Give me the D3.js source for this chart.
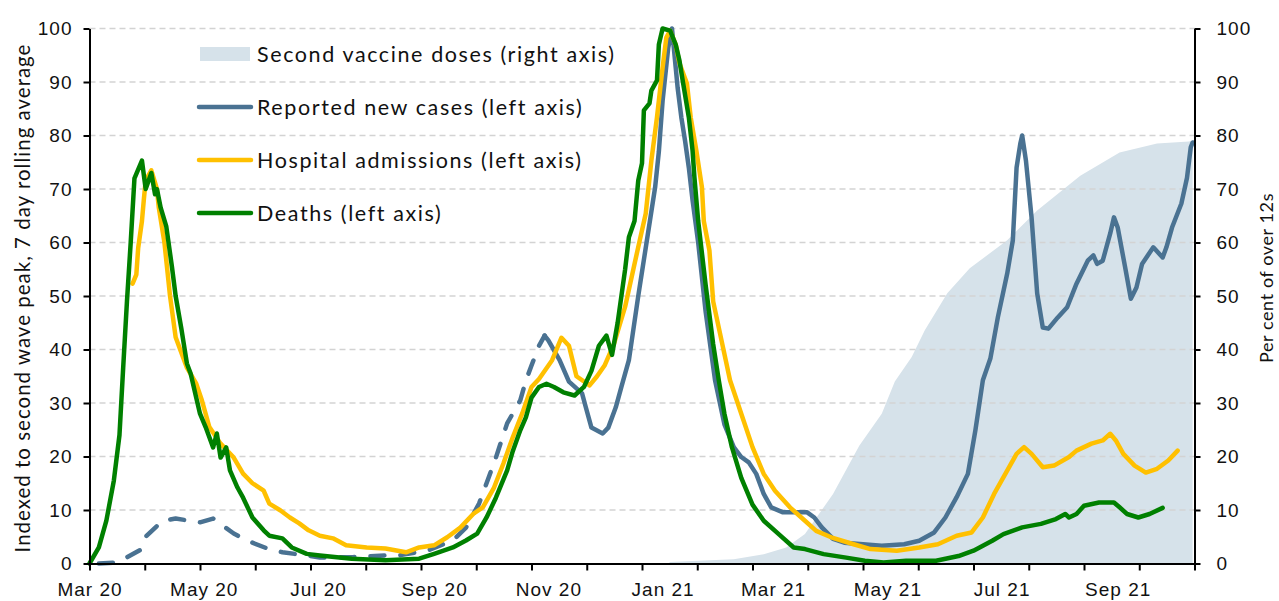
<!DOCTYPE html>
<html>
<head>
<meta charset="utf-8">
<script src="https://cdn.jsdelivr.net/npm/d3@7"></script>
<style>
  body { margin: 0; background: #fff; }
  svg { display: block; font-family: Lato, "Noto Sans", sans-serif; }
  .tick text { font-size: 19px; letter-spacing: 1px; fill: #111; }
</style>
</head>
<body>
<svg id="chart" width="1279" height="601"></svg>
<script>
// Data: [date, value]
var vaccineDoses = [
  ["2021-01-04",0],["2021-01-05",0.3],["2021-01-20",0.5],["2021-02-08",0.8],["2021-02-24",1.75],
  ["2021-03-08",3],["2021-03-18",5.5],["2021-04-02",13],["2021-04-16",22],["2021-04-28",28],
  ["2021-05-05",34],["2021-05-14",38.6],["2021-05-21",43.6],["2021-06-02",50.5],["2021-06-14",55.2],
  ["2021-07-04",60.4],["2021-07-20",66],["2021-08-12",72.5],["2021-09-02",76.8],["2021-09-22",78.5],
  ["2021-10-09",78.9],["2021-10-11",79]
];

// cases before the end of October 2020 are drawn dashed
var casesEarly = [
  ["2020-03-06",0],["2020-03-16",0.2],["2020-03-28",2.5],["2020-03-31",5],["2020-04-09",8],
  ["2020-04-16",8.4],["2020-04-29",7.7],["2020-05-06",8.4],["2020-05-17",5.6],["2020-05-24",4.3],
  ["2020-06-04",2.8],["2020-06-12",2.1],["2020-06-25",1.5],["2020-07-02",1.1],["2020-07-20",1.2],
  ["2020-08-06",1.5],["2020-08-13",1.5],["2020-08-29",2.5],["2020-09-11",4.3],["2020-09-18",6.7],
  ["2020-09-25",11.2],["2020-09-29",15],["2020-10-04",19.8],["2020-10-10",26.2],["2020-10-17",30.5],
  ["2020-10-20",34.2],["2020-10-23",37],["2020-10-27",40.7],["2020-10-30",42.6]
];

var casesLate = [
  ["2020-10-30",42.6],["2020-11-01",41.7],["2020-11-07",38],["2020-11-12",34],["2020-11-19",31.8],
  ["2020-11-21",29.2],["2020-11-24",25.4],["2020-11-30",24.3],["2020-12-03",25.4],["2020-12-07",29.2],
  ["2020-12-10",33],["2020-12-14",38],["2020-12-19",50],["2020-12-28",70.3],["2020-12-30",77],
  ["2021-01-01",86.5],["2021-01-04",96.4],["2021-01-06",100],["2021-01-08",92.7],["2021-01-09",89],
  ["2021-01-11",83.4],["2021-01-13",79],["2021-01-15",74],["2021-01-17",67.9],["2021-01-20",60],
  ["2021-01-24",47],["2021-01-29",34.25],["2021-02-03",26],["2021-02-08",21.75],["2021-02-12",19.9],
  ["2021-02-16",18.9],["2021-02-20",16.75],["2021-02-24",13],["2021-02-28",10.5],["2021-03-06",9.6],
  ["2021-03-16",9.6],["2021-03-19",9.6],["2021-03-23",8.6],["2021-03-27",6.75],["2021-04-02",4.6],
  ["2021-04-08",3.9],["2021-04-18",3.6],["2021-04-28",3.3],["2021-05-10",3.6],["2021-05-18",4.25],
  ["2021-05-26",5.8],["2021-06-01",8.6],["2021-06-07",12.4],["2021-06-13",16.75],["2021-06-17",24.9],
  ["2021-06-21",34.25],["2021-06-25",38.3],["2021-06-29",46],["2021-07-04",54.2],["2021-07-07",60.4],
  ["2021-07-09",74],["2021-07-11",78.5],["2021-07-12",80],["2021-07-14",75.3],["2021-07-17",64.7],
  ["2021-07-20",50.5],["2021-07-23",44.1],["2021-07-26",43.9],["2021-07-31",46],["2021-08-05",47.9],
  ["2021-08-10",52.3],["2021-08-16",56.6],["2021-08-19",57.6],["2021-08-21",56],["2021-08-24",56.6],
  ["2021-08-28",61.7],["2021-08-30",64.7],["2021-09-01",62.8],["2021-09-05",55.3],["2021-09-08",49.5],
  ["2021-09-11",51.6],["2021-09-14",56],["2021-09-20",59.1],["2021-09-25",57.2],["2021-09-27",59.1],
  ["2021-09-30",62.8],["2021-10-05",67.3],["2021-10-08",72.1],["2021-10-10",77.8],["2021-10-11",78.7]
];

var admissions = [
  ["2020-03-24",52.3],["2020-03-26",54],["2020-03-27",59],["2020-03-29",64],["2020-03-30",68],
  ["2020-03-31",71.6],["2020-04-03",73.5],["2020-04-06",70],["2020-04-07",66.5],["2020-04-10",60],
  ["2020-04-13",50],["2020-04-16",42.3],["2020-04-22",36.6],["2020-04-27",33.6],["2020-04-30",30.5],
  ["2020-05-04",25.5],["2020-05-10",22.4],["2020-05-17",19.8],["2020-05-22",16.8],["2020-05-27",15],
  ["2020-06-02",13.6],["2020-06-05",11.2],["2020-06-11",9.9],["2020-06-16",8.6],["2020-06-21",7.5],
  ["2020-06-26",6.2],["2020-07-02",5.2],["2020-07-09",4.7],["2020-07-16",3.4],["2020-07-27",3],
  ["2020-08-06",2.8],["2020-08-17",2.1],["2020-08-24",3],["2020-09-01",3.4],["2020-09-08",4.9],
  ["2020-09-15",6.7],["2020-09-22",9.3],["2020-09-27",10.5],["2020-10-03",14.2],["2020-10-08",18.7],
  ["2020-10-13",23.6],["2020-10-18",28],["2020-10-23",33],["2020-10-27",34.5],["2020-11-03",38],
  ["2020-11-08",42.2],["2020-11-12",40.7],["2020-11-16",35],["2020-11-23",33.3],["2020-11-27",35],
  ["2020-12-01",37],["2020-12-06",41],["2020-12-12",48],["2020-12-17",56],["2020-12-23",65.4],
  ["2020-12-26",75.3],["2020-12-29",83.4],["2021-01-01",92.7],["2021-01-03",98.3],["2021-01-05",99.6],
  ["2021-01-08",97],["2021-01-10",93.5],["2021-01-14",89.7],["2021-01-16",83.4],["2021-01-19",77.2],
  ["2021-01-22",70.3],["2021-01-23",64],["2021-01-26",58.5],["2021-01-28",49],["2021-02-06",34.25],
  ["2021-02-12",28],["2021-02-18",21.75],["2021-02-24",16.75],["2021-03-02",13.6],["2021-03-10",10.5],
  ["2021-03-18",8],["2021-03-24",6.1],["2021-04-01",4.9],["2021-04-13",3.6],["2021-04-22",2.7],
  ["2021-05-06",2.4],["2021-05-18",3],["2021-05-28",3.6],["2021-06-07",5.2],["2021-06-15",5.8],
  ["2021-06-21",8.6],["2021-06-27",13],["2021-07-03",16.75],["2021-07-09",20.5],["2021-07-13",21.75],
  ["2021-07-17",20.5],["2021-07-23",18],["2021-07-29",18.3],["2021-08-06",19.9],["2021-08-10",21.1],
  ["2021-08-18",22.4],["2021-08-24",23],["2021-08-28",24.25],["2021-08-31",23],["2021-09-04",20.5],
  ["2021-09-10",18.3],["2021-09-16",17],["2021-09-22",17.7],["2021-09-28",19.25],["2021-10-03",21.1]
];

var deaths = [
  ["2020-03-01",0],["2020-03-06",3],["2020-03-10",8],["2020-03-14",15.5],["2020-03-17",24],
  ["2020-03-19",36.7],["2020-03-21",49],["2020-03-23",60],["2020-03-25",72],["2020-03-29",75.3],
  ["2020-03-31",70],["2020-04-03",73],["2020-04-05",69],["2020-04-06",70],["2020-04-08",66.5],
  ["2020-04-11",63],["2020-04-14",55.5],["2020-04-16",50],["2020-04-19",44],["2020-04-22",37.4],
  ["2020-04-24",35.5],["2020-04-27",31],["2020-04-29",28],["2020-05-02",25.5],["2020-05-06",21.7],
  ["2020-05-08",24.3],["2020-05-10",19.8],["2020-05-13",21.7],["2020-05-15",17.4],["2020-05-19",14.2],
  ["2020-05-22",12.3],["2020-05-27",8.6],["2020-06-02",6.2],["2020-06-05",5.2],["2020-06-12",4.7],
  ["2020-06-17",3],["2020-06-25",1.8],["2020-07-02",1.5],["2020-07-19",0.9],["2020-08-06",0.6],
  ["2020-08-24",0.9],["2020-09-01",1.8],["2020-09-11",3],["2020-09-18",4.3],["2020-09-24",5.6],
  ["2020-09-29",8.6],["2020-10-04",12.3],["2020-10-10",17.4],["2020-10-13",21],["2020-10-17",24.9],
  ["2020-10-20",27.3],["2020-10-23",31],["2020-10-27",33],["2020-10-31",33.6],["2020-11-04",33],
  ["2020-11-09",32],["2020-11-15",31.4],["2020-11-20",33],["2020-11-24",36],["2020-11-28",40.7],
  ["2020-12-02",42.6],["2020-12-05",39],["2020-12-08",45],["2020-12-12",55],["2020-12-14",61],
  ["2020-12-17",64],["2020-12-19",71.6],["2020-12-21",74.8],["2020-12-22",84.7],["2020-12-25",86],
  ["2020-12-26",88.4],["2020-12-29",90.3],["2020-12-30",97],["2021-01-01",100],["2021-01-05",99.6],
  ["2021-01-08",97],["2021-01-10",94],["2021-01-12",89.7],["2021-01-15",83.4],["2021-01-17",77.2],
  ["2021-01-18",72.1],["2021-01-20",64],["2021-01-24",52],["2021-01-28",41],["2021-01-31",34.25],
  ["2021-02-03",28],["2021-02-07",21.75],["2021-02-12",16],["2021-02-18",11],["2021-02-24",8],
  ["2021-03-04",5.5],["2021-03-12",3],["2021-03-18",2.7],["2021-03-28",1.75],["2021-04-09",1.1],
  ["2021-04-19",0.5],["2021-04-29",0.2],["2021-05-11",0.5],["2021-05-27",0.5],["2021-06-08",1.4],
  ["2021-06-16",2.4],["2021-06-26",4.25],["2021-07-02",5.5],["2021-07-12",6.75],["2021-07-22",7.4],
  ["2021-07-30",8.3],["2021-08-04",9.25],["2021-08-06",8.6],["2021-08-10",9.25],["2021-08-14",10.8],
  ["2021-08-22",11.4],["2021-08-30",11.4],["2021-09-02",10.5],["2021-09-06",9.25],["2021-09-12",8.6],
  ["2021-09-18",9.25],["2021-09-25",10.4]
];

var yTicks = [0, 10, 20, 30, 40, 50, 60, 70, 80, 90, 100];
var legendItems = [
  { label: "Second vaccine doses (right axis)", kind: "area", color: "#d6e2ea" },
  { label: "Reported new cases (left axis)", kind: "line", color: "#4a7292" },
  { label: "Hospital admissions (left axis)", kind: "line", color: "#ffc000" },
  { label: "Deaths (left axis)", kind: "line", color: "#008000" }
];

var parse = d3.timeParse("%Y-%m-%d");
function rows(arr) {
  return arr.map(function(d) { return { date: parse(d[0]), value: d[1] }; });
}

var svg = d3.select("#chart");
var plotLeft = 89.5, plotRight = 1194.5, plotTop = 28.5, plotBottom = 563.5;

var x = d3.scaleTime()
  .domain([parse("2020-03-01"), parse("2021-10-12")])
  .range([plotLeft, plotRight]);
var yL = d3.scaleLinear().domain([0, 100]).range([plotBottom, plotTop]);
var yR = d3.scaleLinear().domain([0, 100]).range([plotBottom, plotTop]);

// vaccine area (right axis)
var area = d3.area()
  .x(function(d) { return x(d.date); })
  .y0(plotBottom)
  .y1(function(d) { return yR(d.value); });

svg.append("path")
  .datum(rows(vaccineDoses))
  .attr("d", area)
  .attr("fill", legendItems[0].color);

// gridlines
svg.append("g")
  .selectAll("line")
  .data(yTicks.slice(1))
  .enter().append("line")
  .attr("x1", plotLeft).attr("x2", plotRight)
  .attr("y1", function(d) { return yL(d); })
  .attr("y2", function(d) { return yL(d); })
  .attr("stroke", "#d3d3d3")
  .attr("stroke-width", 1.6)
  .attr("stroke-dasharray", "6,4");

var line = d3.line()
  .x(function(d) { return x(d.date); })
  .y(function(d) { return yL(d.value); });

function drawLine(data, color, dash) {
  var p = svg.append("path")
    .datum(rows(data))
    .attr("d", line)
    .attr("fill", "none")
    .attr("stroke", color)
    .attr("stroke-width", 4.5)
    .attr("stroke-linejoin", "round")
    .attr("stroke-linecap", "round");
  if (dash) p.attr("stroke-dasharray", dash);
}

drawLine(casesEarly, legendItems[1].color, "14,16");
drawLine(casesLate, legendItems[1].color);
drawLine(admissions, legendItems[2].color);
drawLine(deaths, legendItems[3].color);

// axes
var axisLeft = svg.append("g")
  .attr("transform", "translate(" + plotLeft + ",0)")
  .call(d3.axisLeft(yL).tickValues(yTicks).tickSize(6).tickSizeOuter(0).tickPadding(11));

var axisRight = svg.append("g")
  .attr("transform", "translate(" + plotRight + ",0)")
  .call(d3.axisRight(yR).tickValues(yTicks).tickSize(6).tickSizeOuter(0).tickPadding(16));

// tick marks split the date range evenly, labels sit on every other month
var d0 = x.domain()[0], d1 = x.domain()[1];
var tickDates = d3.range(21).map(function(i) { return new Date(+d0 + i * (d1 - d0) / 20); });

var axisX = svg.append("g")
  .attr("transform", "translate(0," + plotBottom + ")")
  .call(d3.axisBottom(x).tickValues(tickDates).tickSize(7).tickSizeOuter(0).tickFormat(""));

var axisXLabels = svg.append("g")
  .attr("transform", "translate(0," + plotBottom + ")")
  .call(d3.axisBottom(x).ticks(d3.timeMonth.every(2)).tickSize(0).tickPadding(19)
    .tickFormat(d3.timeFormat("%b %y")));
axisXLabels.select(".domain").remove();

[axisLeft, axisRight, axisX].forEach(function(g) {
  g.select(".domain").attr("stroke", "#000").attr("stroke-width", 2);
  g.selectAll(".tick line").attr("stroke", "#000").attr("stroke-width", 2);
});

// axis titles
svg.append("text")
  .attr("transform", "translate(22,298) rotate(-90)")
  .attr("text-anchor", "middle")
  .attr("dominant-baseline", "central")
  .style("font-size", "20.5px")
  .style("letter-spacing", "1px")
  .attr("fill", "#111")
  .text("Indexed to second wave peak, 7 day rolling average");

svg.append("text")
  .attr("transform", "translate(1266,278) rotate(-90)")
  .attr("text-anchor", "middle")
  .attr("dominant-baseline", "central")
  .style("font-size", "18px")
  .style("letter-spacing", "0.6px")
  .attr("fill", "#111")
  .text("Per cent of over 12s");

// legend
var legend = svg.append("g");
legendItems.forEach(function(item, i) {
  var cy = 54 + i * 53;
  if (item.kind == "area") {
    legend.append("rect")
      .attr("x", 200).attr("y", cy - 7)
      .attr("width", 50).attr("height", 14)
      .attr("fill", item.color);
  } else {
    legend.append("line")
      .attr("x1", 199).attr("x2", 251)
      .attr("y1", cy).attr("y2", cy)
      .attr("stroke", item.color)
      .attr("stroke-width", 4.5)
      .attr("stroke-linecap", "round");
  }
  legend.append("text")
    .attr("x", 257).attr("y", cy)
    .attr("dominant-baseline", "central")
    .style("font-size", "21.5px")
    .style("letter-spacing", "1.6px")
    .attr("fill", "#111")
    .text(item.label);
});
</script>
</body>
</html>
